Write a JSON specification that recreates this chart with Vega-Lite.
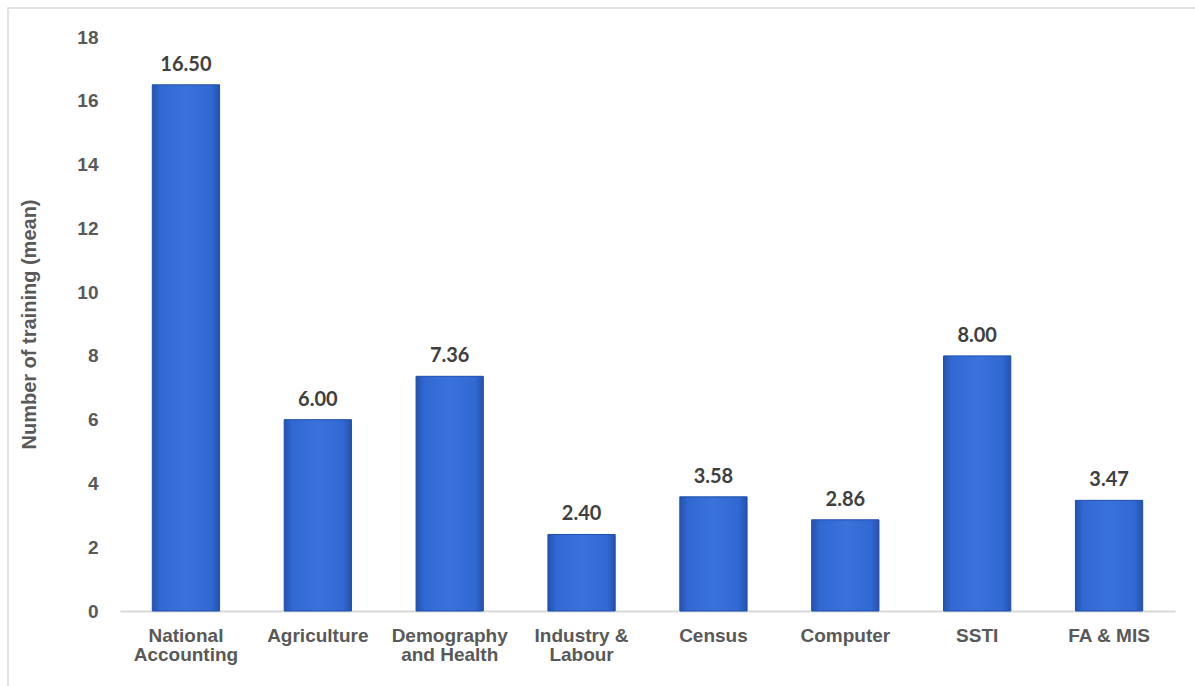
{
  "$schema": "https://vega.github.io/schema/vega-lite/v6.json",
  "width": 1191,
  "height": 682,
  "autosize": {"type": "none"},
  "padding": {"left": 8, "top": 8, "right": -4, "bottom": -4},
  "background": "white",
  "config": {
    "view": {"stroke": "#d9d9d9", "strokeWidth": 1.5},
    "font": "Liberation Sans"
  },
  "data": {
    "values": [
      {"category": "National Accounting", "value": 16.5},
      {"category": "Agriculture", "value": 6.0},
      {"category": "Demography and Health", "value": 7.36},
      {"category": "Industry & Labour", "value": 2.4},
      {"category": "Census", "value": 3.58},
      {"category": "Computer", "value": 2.86},
      {"category": "SSTI", "value": 8.0},
      {"category": "FA & MIS", "value": 3.47}
    ]
  },
  "encoding": {
    "x": {
      "field": "category",
      "type": "nominal",
      "sort": null,
      "scale": {"range": [112, 1167], "paddingInner": 0.49, "paddingOuter": 0.245},
      "axis": {
        "orient": "bottom",
        "offset": -79,
        "title": null,
        "labelAngle": 0,
        "domainColor": "#d9d9d9",
        "domainWidth": 2,
        "ticks": false,
        "grid": false,
        "labelPadding": 15,
        "labelFontSize": 19,
        "labelFontWeight": "bold",
        "labelColor": "#595959",
        "labelLineHeight": 19,
        "labelBaseline": "top",
        "labelExpr": "datum.value == 'National Accounting' ? ['National', 'Accounting'] : datum.value == 'Demography and Health' ? ['Demography', 'and Health'] : datum.value == 'Industry & Labour' ? ['Industry &', 'Labour'] : datum.value"
      }
    },
    "y": {
      "field": "value",
      "type": "quantitative",
      "scale": {"domain": [0, 18], "range": [603, 29], "nice": false},
      "axis": {
        "orient": "left",
        "offset": -92,
        "domain": false,
        "ticks": false,
        "grid": false,
        "values": [0, 2, 4, 6, 8, 10, 12, 14, 16, 18],
        "labelPadding": 2,
        "labelFontSize": 19,
        "labelFontWeight": "bold",
        "labelColor": "#595959",
        "title": "Number of training (mean)",
        "titleFontSize": 20,
        "titleFontWeight": "bold",
        "titleColor": "#595959",
        "titlePadding": 37
      }
    }
  },
  "layer": [
    {
      "mark": {
        "type": "bar",
        "stroke": "#1f4ea8",
        "strokeWidth": 1,
        "color": {
          "gradient": "linear",
          "x1": 0, "y1": 0, "x2": 1, "y2": 0,
          "stops": [
            {"offset": 0, "color": "#2452b0"},
            {"offset": 0.12, "color": "#3168d2"},
            {"offset": 0.5, "color": "#3a72dc"},
            {"offset": 0.88, "color": "#3168d2"},
            {"offset": 1, "color": "#2452b0"}
          ]
        }
      }
    },
    {
      "mark": {
        "type": "text",
        "baseline": "alphabetic",
        "dy": -14,
        "font": "Lato",
        "fontSize": 20,
        "fontWeight": "bold",
        "color": "#404040"
      },
      "encoding": {
        "text": {"field": "value", "type": "quantitative", "format": ".2f"}
      }
    }
  ]
}
